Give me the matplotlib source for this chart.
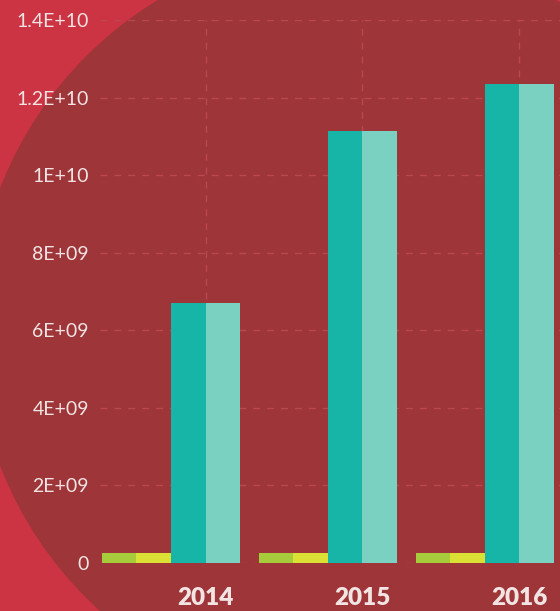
import numpy as np
import matplotlib
matplotlib.use("Agg")
import matplotlib.pyplot as plt
from matplotlib.patches import Circle

# dane
lata = ["2014", "2015", "2016"]
seria_zielona = [2.6e8, 2.6e8, 2.6e8]
seria_zolta = [2.6e8, 2.6e8, 2.6e8]
seria_turkus = [6.7e9, 1.114e10, 1.235e10]
seria_jasny_turkus = [6.7e9, 1.114e10, 1.235e10]
etykiety_y = ["0", "2E+09", "4E+09", "6E+09", "8E+09", "1E+10", "1.2E+10", "1.4E+10"]
wartosci_y = [0, 2e9, 4e9, 6e9, 8e9, 1e10, 1.2e10, 1.4e10]

kolory = ["#a6cc3c", "#dbe134", "#16b5a8", "#7ad0c1"]
tlo = "#cc3343"
kolo = "#9d3539"
tekst = "#f3e4e4"

fig = plt.figure(figsize=(5.6, 6.11), dpi=100, facecolor=tlo)
# duze ciemne kolo w tle
fig.patches.append(Circle((3.57, 2.84), 3.83, transform=fig.dpi_scale_trans,
                          facecolor=kolo, edgecolor="none", zorder=0))

ax = fig.add_axes([100 / 560, 48 / 611, 460 / 560, 543 / 611])
ax.set_zorder(5)
ax.set_facecolor("none")

x = np.arange(len(lata))
w = 0.22
serie = [seria_zielona, seria_zolta, seria_turkus, seria_jasny_turkus]
for i, s in enumerate(serie):
    ax.bar(x + (i - 1.5) * w, s, width=w, color=kolory[i], linewidth=0, zorder=3)

ax.set_xlim(-0.452, 2.478)
ax.set_ylim(0, 1.4e10)

ax.set_yticks(wartosci_y)
ax.set_yticklabels(etykiety_y, fontsize=14, color=tekst, family="Lato")
ax.set_xticks(x + w)
ax.set_xticklabels(lata, fontsize=17.5, fontweight="heavy", color=tekst, family="Lato")
ax.tick_params(axis="y", length=0, pad=8)
ax.tick_params(axis="x", length=0, pad=17)

# przerywana siatka za slupkami
ax.grid(True, color="#bb4850", linestyle=(0, (5, 5)), linewidth=1.0, zorder=1)
ax.set_axisbelow(True)
for sp in ax.spines.values():
    sp.set_visible(False)

fig.savefig("out.png", dpi=100, facecolor=tlo)
